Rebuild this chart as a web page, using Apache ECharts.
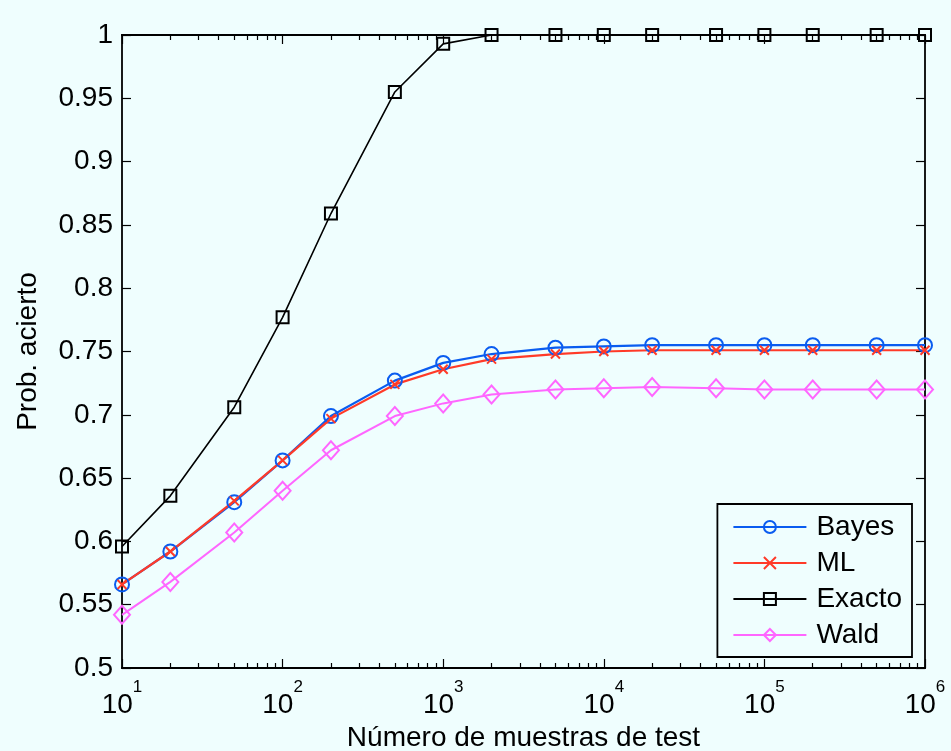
<!DOCTYPE html>
<html>
<head>
<meta charset="utf-8">
<script src="https://cdn.jsdelivr.net/npm/echarts@6/dist/echarts.min.js"></script>
<style>
  html, body { margin: 0; padding: 0; background: #effefe; }
  #chart { width: 951px; height: 751px; }
</style>
</head>
<body>
<div id="chart"></div>
<script>
// Test sample sizes (x, log scale)
const muestras = [10, 20, 50, 100, 200, 500, 1000, 2000, 5000, 10000, 20000, 50000, 100000, 200000, 500000, 1000000];

// Probability of a correct decision for each method
const bayes  = [0.566, 0.592, 0.631, 0.664, 0.699, 0.727, 0.741, 0.748, 0.753, 0.754, 0.755, 0.755, 0.755, 0.755, 0.755, 0.755];
const ml     = [0.566, 0.592, 0.632, 0.664, 0.697, 0.724, 0.736, 0.744, 0.748, 0.750, 0.751, 0.751, 0.751, 0.751, 0.751, 0.751];
const exacto = [0.596, 0.636, 0.706, 0.777, 0.859, 0.955, 0.993, 1.000, 1.000, 1.000, 1.000, 1.000, 1.000, 1.000, 1.000, 1.000];
const wald   = [0.542, 0.568, 0.607, 0.640, 0.672, 0.699, 0.709, 0.716, 0.720, 0.721, 0.722, 0.721, 0.720, 0.720, 0.720, 0.720];

// Axis ticks
const yTicks = [0.5, 0.55, 0.6, 0.65, 0.7, 0.75, 0.8, 0.85, 0.9, 0.95, 1];
const xDecades = [10, 100, 1000, 10000, 100000, 1000000];
const xMinor = [];
for (let d = 10; d < 1000000; d *= 10) {
  for (let k = 2; k <= 9; k++) xMinor.push(k * d);
}

const FONT = 'Liberation Sans, Arial, Helvetica, sans-serif';
const FS = 28;
const BG = '#effefe';
const AXIS_LINE = { color: '#000', width: 1.8 };

function pairs(ys) { return muestras.map((x, i) => [x, ys[i]]); }

function xAxisDef(pos, ticks, len, showLabel) {
  return {
    type: 'log', logBase: 10, min: 10, max: 1000000, position: pos,
    axisLine: { show: true, onZero: false, lineStyle: AXIS_LINE },
    axisTick: { show: true, inside: true, length: len, customValues: ticks, lineStyle: { color: '#000', width: 1.2 } },
    axisLabel: showLabel ? {
      show: true, customValues: xDecades, margin: 11,
      // power-of-ten label: "10" with a raised exponent
      formatter: v => '{b|10}{s|' + Math.round(Math.log10(v)) + '}',
      rich: {
        b: { fontFamily: FONT, fontSize: FS, color: '#000', lineHeight: 40, verticalAlign: 'bottom' },
        s: { fontFamily: FONT, fontSize: 17, color: '#000', lineHeight: 24, verticalAlign: 'top' }
      }
    } : { show: false },
    splitLine: { show: false },
    minorTick: { show: false },
    name: showLabel ? 'Número de muestras de test' : '',
    nameLocation: 'middle', nameGap: 55,
    nameTextStyle: { fontFamily: FONT, fontSize: FS, color: '#000' }
  };
}

function yAxisDef(pos, showLabel) {
  return {
    type: 'value', min: 0.5, max: 1, interval: 0.05, position: pos,
    axisLine: { show: true, onZero: false, lineStyle: AXIS_LINE },
    axisTick: { show: true, inside: true, length: 9, customValues: yTicks, lineStyle: { color: '#000', width: 1.2 } },
    axisLabel: showLabel ? {
      show: true, customValues: yTicks, margin: 9, fontFamily: FONT, fontSize: FS, color: '#000',
      formatter: v => String(Math.round(v * 100) / 100)
    } : { show: false },
    splitLine: { show: false },
    name: showLabel ? 'Prob. acierto' : '',
    nameLocation: 'middle', nameGap: 80, nameRotate: 90,
    nameTextStyle: { fontFamily: FONT, fontSize: FS, color: '#000' }
  };
}

function serie(name, ys, color, symbol, size, lw) {
  return {
    name, type: 'line', xAxisIndex: 0, yAxisIndex: 0,
    data: pairs(ys),
    symbol, symbolSize: size,
    showAllSymbol: true,
    lineStyle: { color, width: lw },
    itemStyle: { color: 'rgba(0,0,0,0)', borderColor: color, borderWidth: 2 },
    emphasis: { disabled: true },
    animation: false,
    z: 3
  };
}

const chart = echarts.init(document.getElementById('chart'), null, { renderer: 'canvas' });
chart.setOption({
  backgroundColor: BG,
  animation: false,
  grid: { left: 122, right: 26, top: 35, bottom: 83, containLabel: false, outerBoundsMode: 'none' },
  xAxis: [
    xAxisDef('bottom', xDecades, 9, true),
    xAxisDef('bottom', xMinor, 5, false),
    xAxisDef('top', xDecades, 9, false),
    xAxisDef('top', xMinor, 5, false)
  ],
  yAxis: [
    yAxisDef('left', true),
    yAxisDef('right', false)
  ],
  legend: {
    orient: 'vertical', right: 39, top: 504,
    itemWidth: 73, itemHeight: 15, itemGap: 8,
    padding: [9, 10, 8, 15],
    backgroundColor: BG, borderColor: '#000', borderWidth: 1.8, borderRadius: 0,
    textStyle: { fontFamily: FONT, fontSize: FS, color: '#000', lineHeight: 28, padding: [0, 0, 0, 5] },
    data: ['Bayes', 'ML', 'Exacto', 'Wald']
  },
  series: [
    serie('Bayes', bayes, '#0a5cf0', 'circle', 14, 2.2),
    serie('ML', ml, '#ff3a28', 'path://M0,0L10,10M10,0L0,10', 9, 2.2),
    serie('Exacto', exacto, '#000000', 'rect', 12, 1.6),
    serie('Wald', wald, '#ff66ff', 'diamond', [16, 18], 2)
  ]
});
</script>
</body>
</html>
